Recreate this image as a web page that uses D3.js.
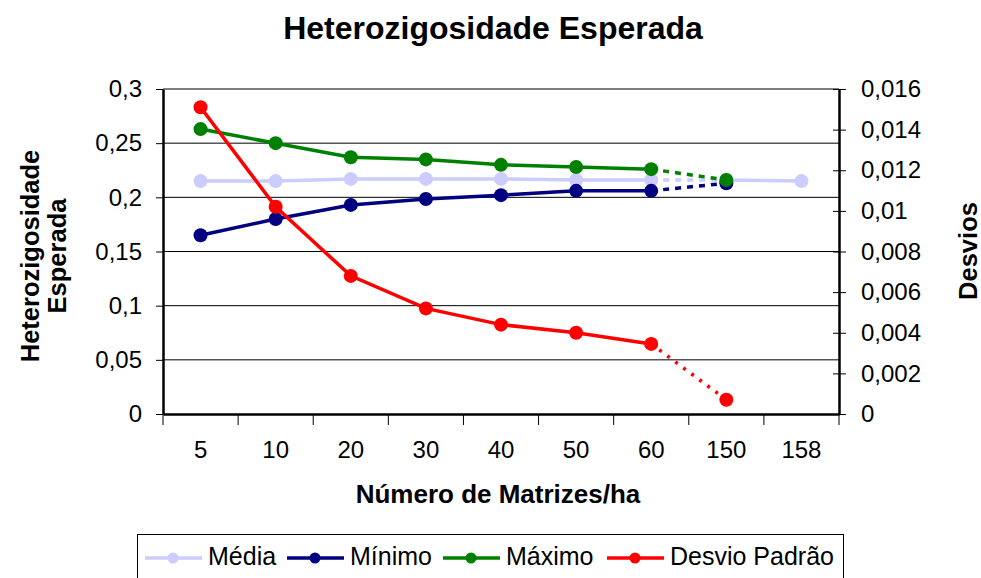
<!DOCTYPE html>
<meta charset="utf-8">
<style>
body { margin: 0; background: #fff; }
svg { font-family: "Liberation Sans", Arial, sans-serif; }
.axis text { font-size: 24px; fill: #000; }
.axis path, .axis line { stroke: #000; }
.grid line { stroke: #000; stroke-width: 1; }
</style>
<body>
<div id="chart"></div>
<script src="https://cdn.jsdelivr.net/npm/d3@7"></script>
<script>
// data
var categories = ["5", "10", "20", "30", "40", "50", "60", "150", "158"];
var media  = [0.215, 0.215, 0.217, 0.217, 0.217, 0.216, 0.216, 0.216, 0.215];
var minimo = [0.165, 0.180, 0.193, 0.1985, 0.202, 0.206, 0.206, 0.213, null];
var maximo = [0.263, 0.250, 0.237, 0.235, 0.230, 0.228, 0.226, 0.216, null];
var desvio = [0.0151, 0.0102, 0.0068, 0.0052, 0.0044, 0.0040, 0.00345, 0.0007, null];
var leftTicks = [0, 0.05, 0.1, 0.15, 0.2, 0.25, 0.3];
var rightTicks = [0, 0.002, 0.004, 0.006, 0.008, 0.01, 0.012, 0.014, 0.016];

var W = 981, H = 578;
var x0 = 163, x1 = 839, y0 = 89, y1 = 414;

var svg = d3.select("#chart").append("svg")
    .attr("width", W).attr("height", H);

var x = d3.scaleBand().domain(categories).range([x0, x1]);
var yL = d3.scaleLinear().domain([0, 0.3]).range([y1, y0]);
var yR = d3.scaleLinear().domain([0, 0.016]).range([y1, y0]);
var fmt = function(d) { return String(d).replace(".", ","); };

// gridlines
svg.append("g").attr("class", "grid")
    .selectAll("line").data(leftTicks.slice(1)).enter().append("line")
    .attr("x1", x0).attr("x2", x1)
    .attr("y1", function(d) { return yL(d); })
    .attr("y2", function(d) { return yL(d); });

// axes
var gx = svg.append("g").attr("class", "axis")
    .attr("transform", "translate(0," + y1 + ")")
    .call(d3.axisBottom(x).tickSize(0).tickPadding(27));
gx.select(".domain").attr("stroke-width", 2.5);
gx.selectAll(".bound").data(categories.map(function(c) { return x(c); }).concat([x1]))
    .enter().append("line")
    .attr("x1", function(d) { return d; }).attr("x2", function(d) { return d; })
    .attr("y1", 0).attr("y2", 11).attr("stroke", "#000");

var gl = svg.append("g").attr("class", "axis")
    .attr("transform", "translate(" + x0 + ",0)")
    .call(d3.axisLeft(yL).tickValues(leftTicks).tickFormat(fmt).tickSize(7).tickPadding(14).tickSizeOuter(0));
gl.select(".domain").attr("stroke-width", 2.5);

var gr = svg.append("g").attr("class", "axis")
    .attr("transform", "translate(" + x1 + ",0)")
    .call(d3.axisRight(yR).tickValues(rightTicks).tickFormat(fmt).tickSize(7).tickPadding(15).tickSizeOuter(0));
gr.select(".domain").attr("stroke-width", 2.5);
gr.selectAll(".tick line").attr("x1", -6);

// series
var series = [
    { name: "Média", values: media, scale: yL, color: "#ccccff", dash: "6,6" },
    { name: "Mínimo", values: minimo, scale: yL, color: "#000080", dash: "6,6" },
    { name: "Máximo", values: maximo, scale: yL, color: "#008000", dash: "6,6" },
    { name: "Desvio Padrão", values: desvio, scale: yR, color: "#ff0000", dash: "3,7" }
];

series.forEach(function(s) {
    var pts = s.values.map(function(v, i) {
        return { x: x(categories[i]) + x.bandwidth() / 2, v: v, i: i };
    });
    var line = d3.line()
        .defined(function(d) { return d.v != null; })
        .x(function(d) { return d.x; })
        .y(function(d) { return s.scale(d.v); });
    var g = svg.append("g");
    g.append("path").datum(pts.slice(0, 7)).attr("d", line)
        .attr("fill", "none").attr("stroke", s.color).attr("stroke-width", 3.5);
    g.append("path").datum(pts.slice(6, 8)).attr("d", line)
        .attr("fill", "none").attr("stroke", s.color).attr("stroke-width", 3.5)
        .attr("stroke-dasharray", s.dash);
    g.append("path").datum(pts.slice(7, 9)).attr("d", line)
        .attr("fill", "none").attr("stroke", s.color).attr("stroke-width", 3.5);
    g.selectAll("circle").data(pts.filter(function(d) { return d.v != null; }))
        .enter().append("circle")
        .attr("cx", function(d) { return d.x; })
        .attr("cy", function(d) { return s.scale(d.v); })
        .attr("r", 7).attr("fill", s.color);
});

// titles
svg.append("text").attr("x", 493).attr("y", 39).attr("text-anchor", "middle")
    .style("font-size", "32px").style("font-weight", "bold").text("Heterozigosidade Esperada");
svg.append("text").attr("x", 498).attr("y", 503).attr("text-anchor", "middle")
    .style("font-size", "26px").style("font-weight", "bold").text("Número de Matrizes/ha");
var lt = svg.append("text").attr("transform", "translate(39,256) rotate(-90)")
    .attr("text-anchor", "middle").style("font-size", "25.5px").style("font-weight", "bold");
lt.append("tspan").attr("x", 0).attr("dy", 0).text("Heterozigosidade");
lt.append("tspan").attr("x", 0).attr("dy", 27).text("Esperada");
svg.append("text").attr("transform", "translate(977,251) rotate(-90)")
    .attr("text-anchor", "middle").style("font-size", "25.5px").style("font-weight", "bold").text("Desvios");

// legend
svg.append("rect").attr("x", 137.5).attr("y", 534.5).attr("width", 706).attr("height", 60)
    .attr("fill", "none").attr("stroke", "#000").attr("stroke-width", 1);
var legX = [145, 287, 443, 607];
series.forEach(function(s, i) {
    var g = svg.append("g").attr("transform", "translate(" + legX[i] + ",558)");
    g.append("line").attr("x1", 0).attr("x2", 57).attr("stroke", s.color).attr("stroke-width", 3.5);
    g.append("circle").attr("cx", 28).attr("r", 5.5).attr("fill", s.color);
    g.append("text").attr("x", 63).attr("y", 7).style("font-size", "25px").text(s.name);
});
</script>
</body>
